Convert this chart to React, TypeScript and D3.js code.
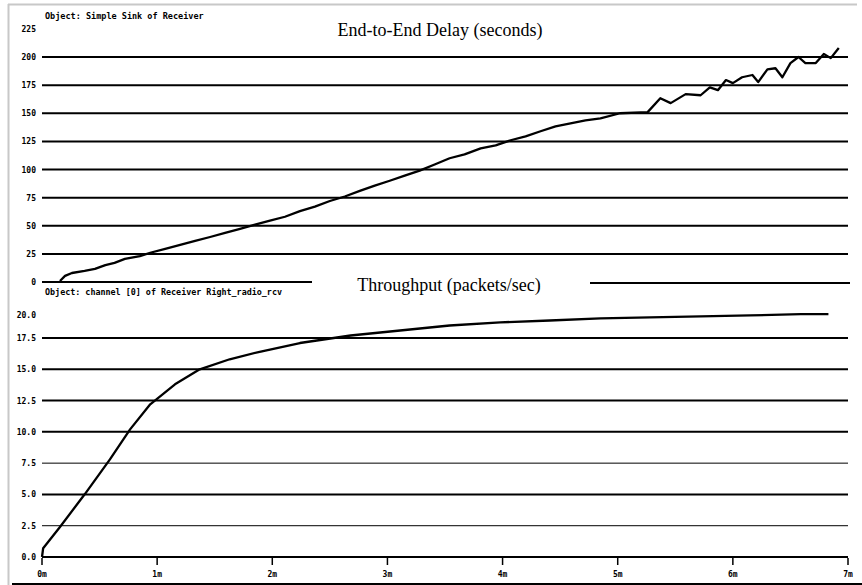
import React from "react";
import * as d3 from "d3";

const delayTime = [0.156, 0.2, 0.26, 0.37, 0.46, 0.55, 0.63, 0.72, 0.85, 0.94, 1.07, 1.2, 1.33, 1.46, 1.59, 1.72, 1.85, 1.98, 2.11, 2.24, 2.37, 2.5, 2.63, 2.76, 2.89, 3.02, 3.15, 3.28, 3.41, 3.54, 3.67, 3.81, 3.94, 4.07, 4.2, 4.33, 4.46, 4.59, 4.72, 4.85, 5.02, 5.26, 5.37, 5.46, 5.59, 5.72, 5.8, 5.87, 5.94, 6.0, 6.08, 6.17, 6.22, 6.3, 6.37, 6.43, 6.5, 6.57, 6.63, 6.72, 6.79, 6.85, 6.92];
const delayValue = [0.9, 5.4, 8, 9.8, 11.6, 15, 17, 20.5, 23, 26, 29.5, 33, 36.6, 40, 43.7, 47.3, 51, 54.5, 58, 63, 67, 72, 76, 81, 85.7, 90, 94.6, 99, 104.5, 110, 113.4, 118.8, 121.4, 126, 129.5, 134, 138.4, 141, 143.75, 145.5, 150, 151, 163.4, 159, 167, 166, 173, 170.5, 179.5, 176.8, 182, 184, 177.7, 189, 190, 182, 194.6, 200, 194.6, 194.6, 202.7, 199, 208];

const thrTime = [0, 0.01, 0.156, 0.374, 0.59, 0.765, 0.94, 1.155, 1.37, 1.63, 1.89, 2.24, 2.68, 3.11, 3.54, 3.98, 4.41, 4.85, 5.28, 5.72, 6.15, 6.59, 6.83];
const thrValue = [0, 0.7, 2.4, 5.05, 7.8, 10.2, 12.2, 13.8, 15.0, 15.8, 16.4, 17.1, 17.7, 18.1, 18.5, 18.75, 18.9, 19.07, 19.15, 19.23, 19.3, 19.4, 19.4];

const delayTicks = [0, 25, 50, 75, 100, 125, 150, 175, 200, 225];
const delayTickLabels = ["0", "25", "50", "75", "100", "125", "150", "175", "200", "225"];
const thrTicks = [0, 2.5, 5, 7.5, 10, 12.5, 15, 17.5, 20];
const thrTickLabels = ["0.0", "2.5", "5.0", "7.5", "10.0", "12.5", "15.0", "17.5", "20.0"];
const xTicks = [0, 1, 2, 3, 4, 5, 6, 7];
const xTickLabels = ["0m", "1m", "2m", "3m", "4m", "5m", "6m", "7m"];

const W = 862;
const H = 585;
const mono = "'DejaVu Sans Mono', monospace";
const serif = "'Liberation Serif', 'Times New Roman', serif";

export default function App() {
  const x = d3.scaleLinear().domain([0, 7]).range([42, 848]);
  const yD = d3.scaleLinear().domain([0, 200]).range([282, 57]);
  const yT = d3.scaleLinear().domain([0, 17.5]).range([557, 338]);

  const delayLine = d3
    .line<number>()
    .x((_, i) => x(delayTime[i]))
    .y((d) => yD(d));
  const thrLine = d3
    .line<number>()
    .x((_, i) => x(thrTime[i]))
    .y((d) => yT(d));

  return (
    <svg
      width={W}
      height={H}
      style={{ position: "absolute", left: 0, top: 0, background: "#fff" }}
    >
      <rect x={0} y={0} width={W} height={H} fill="#fff" />
      {/* frame */}
      <line x1={8} x2={857} y1={4.5} y2={4.5} stroke="#c8c8c8" strokeWidth={2} />
      <line x1={8.5} x2={8.5} y1={4} y2={H} stroke="#c8c8c8" strokeWidth={2} />
      <line x1={12} x2={W} y1={584} y2={584} stroke="#000" strokeWidth={2} />

      {/* top panel */}
      <text x={45} y={19} fontFamily={mono} fontWeight="bold" fontSize={8.5} fill="#000">
        Object: Simple Sink of Receiver
      </text>
      <text x={440} y={36} textAnchor="middle" fontFamily={serif} fontSize={18} fill="#000">
        End-to-End Delay (seconds)
      </text>
      {delayTicks.map((t, i) => (
        <g key={"dt" + t}>
          <text
            x={36}
            y={yD(t) + 3}
            textAnchor="end"
            fontFamily={mono}
            fontWeight="bold"
            fontSize={8}
            fill="#000"
          >
            {delayTickLabels[i]}
          </text>
          {t > 0 && t < 225 && (
            <line x1={42} x2={848} y1={yD(t)} y2={yD(t)} stroke="#000" strokeWidth={2} />
          )}
        </g>
      ))}
      <line x1={42} x2={312} y1={yD(0)} y2={yD(0)} stroke="#000" strokeWidth={2} />
      <path d={delayLine(delayValue) || ""} fill="none" stroke="#000" strokeWidth={2.3} strokeLinejoin="round" />

      {/* bottom panel */}
      <text x={449} y={291} textAnchor="middle" fontFamily={serif} fontSize={18} fill="#000">
        Throughput (packets/sec)
      </text>
      <line x1={590} x2={850} y1={283} y2={283} stroke="#000" strokeWidth={2} />
      <text x={45} y={295} fontFamily={mono} fontWeight="bold" fontSize={8.4} fill="#000">
        Object: channel [0] of Receiver Right_radio_rcv
      </text>
      {thrTicks.map((t, i) => (
        <g key={"tt" + t}>
          <text
            x={36}
            y={(t === 20 ? 315 : yT(t)) + 3}
            textAnchor="end"
            fontFamily={mono}
            fontWeight="bold"
            fontSize={8}
            fill="#000"
          >
            {thrTickLabels[i]}
          </text>
          {t < 20 && (
            <line
              x1={42}
              x2={848}
              y1={yT(t)}
              y2={yT(t)}
              stroke="#000"
              strokeWidth={t === 7.5 || t === 2.5 ? 1 : 2}
            />
          )}
        </g>
      ))}
      <path d={thrLine(thrValue) || ""} fill="none" stroke="#000" strokeWidth={2.3} strokeLinejoin="round" />

      {/* x axis */}
      {xTicks.map((t, i) => (
        <g key={"xt" + t}>
          <line x1={x(t)} x2={x(t)} y1={558} y2={565} stroke="#000" strokeWidth={1.5} />
          <text
            x={x(t)}
            y={577}
            textAnchor="middle"
            fontFamily={mono}
            fontWeight="bold"
            fontSize={8}
            fill="#000"
          >
            {xTickLabels[i]}
          </text>
        </g>
      ))}
    </svg>
  );
}
